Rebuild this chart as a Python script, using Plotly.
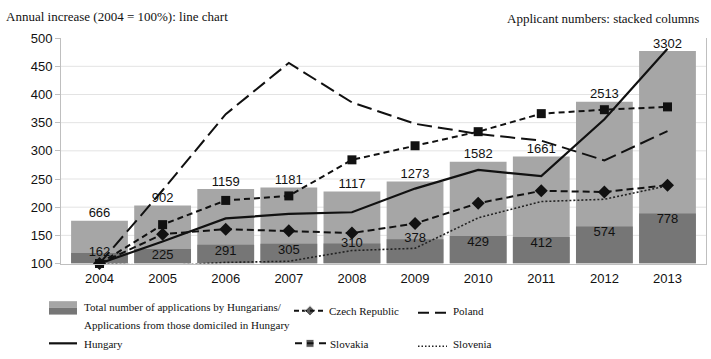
import plotly.graph_objects as go

# ---------------- data ----------------
years = ["2004", "2005", "2006", "2007", "2008", "2009", "2010", "2011", "2012", "2013"]
total_apps = [666, 902, 1159, 1181, 1117, 1273, 1582, 1661, 2513, 3302]
domiciled_apps = [162, 225, 291, 305, 310, 378, 429, 412, 574, 778]

hungary = [100, 139, 180, 188, 191, 233, 266, 255, 356, 481]
czech = [100, 152, 161, 158, 154, 171, 207, 229, 227, 239]
slovakia = [100, 169, 212, 220, 284, 309, 334, 366, 373, 378]
poland = [100, 230, 365, 456, 386, 348, 330, 318, 283, 335]
slovenia = [100, 96, 102, 104, 123, 127, 181, 210, 214, 238]

left_ticks = [100, 150, 200, 250, 300, 350, 400, 450, 500]
grid_ticks = [150, 200, 250, 300, 350, 400, 450]

# ---------------- geometry helpers (figure pixels -> paper) ----------------
W, H = 711, 359


def px(x):
    return x / W


def py(y):
    return 1 - y / H


SANS = "Liberation Sans, Arial, sans-serif"
SERIF = "Liberation Serif, Times New Roman, serif"
LIGHT = "#a6a6a6"
DARK = "#767676"
AXIS = "#bfbfbf"

fig = go.Figure()

# columns (overlay: total behind, domiciled in front)
fig.add_trace(go.Bar(x=years, y=total_apps, marker=dict(color=LIGHT, line=dict(width=0)),
                     xaxis="x", yaxis="y", showlegend=False, hoverinfo="skip"))
fig.add_trace(go.Bar(x=years, y=domiciled_apps, marker=dict(color=DARK, line=dict(width=0)),
                     xaxis="x", yaxis="y", showlegend=False, hoverinfo="skip"))
fig.add_trace(go.Scatter(x=years, y=total_apps, mode="text", text=[str(v) for v in total_apps],
                         textposition="top center", textfont=dict(family=SANS, size=13, color="#111"),
                         xaxis="x", yaxis="y", showlegend=False, hoverinfo="skip", cliponaxis=False))
dom_pos = ["middle center", "bottom center", "bottom center", "bottom center", "middle center",
           "middle center", "bottom center", "bottom center", "bottom center", "bottom center"]
fig.add_trace(go.Scatter(x=years, y=domiciled_apps, mode="text", text=[str(v) for v in domiciled_apps],
                         textposition=dom_pos, textfont=dict(family=SANS, size=13, color="#111"),
                         xaxis="x", yaxis="y", showlegend=False, hoverinfo="skip", cliponaxis=False))

# index lines
line_specs = [
    (slovenia, dict(color="#222", width=1.6, dash="2px,2px"), None, True),
    (poland, dict(color="#111", width=2, dash="15px,6px"), None, True),
    (czech, dict(color="#111", width=2, dash="7px,4px"), dict(symbol="diamond", size=10, color="#111"), False),
    (slovakia, dict(color="#111", width=2, dash="6px,4px"), dict(symbol="square", size=9, color="#111"), False),
    (hungary, dict(color="#111", width=2.2), None, True),
]
for vals, ln, mk, clip in line_specs:
    fig.add_trace(go.Scatter(x=years, y=vals, mode="lines+markers" if mk else "lines",
                             line=ln, marker=mk, xaxis="x", yaxis="y2",
                             showlegend=False, hoverinfo="skip", cliponaxis=clip))

# ---------------- custom legend samples (on a pixel-space helper axis) ----------------
fig.add_trace(go.Scatter(x=[49, 77], y=[351, 351], mode="lines", line=dict(color="#111", width=2.2),
                         xaxis="x3", yaxis="y3", showlegend=False, hoverinfo="skip"))
fig.add_trace(go.Scatter(x=[294, 310, 326], y=[317, 317, 317], mode="lines+markers",
                         line=dict(color="#111", width=2, dash="5px,3px"),
                         marker=dict(symbol="diamond", size=[0, 8, 0], color="#111"),
                         xaxis="x3", yaxis="y3", showlegend=False, hoverinfo="skip"))
fig.add_trace(go.Scatter(x=[295, 310, 326], y=[351, 351, 351], mode="lines+markers",
                         line=dict(color="#111", width=2, dash="7px,5px"),
                         marker=dict(symbol="square", size=[0, 8, 0], color="#111"),
                         xaxis="x3", yaxis="y3", showlegend=False, hoverinfo="skip"))
fig.add_trace(go.Scatter(x=[418, 446], y=[319, 319], mode="lines",
                         line=dict(color="#111", width=2, dash="11px,6px"),
                         xaxis="x3", yaxis="y3", showlegend=False, hoverinfo="skip"))
fig.add_trace(go.Scatter(x=[418, 447], y=[354, 354], mode="lines",
                         line=dict(color="#222", width=1.4, dash="1.5px,2px"),
                         xaxis="x3", yaxis="y3", showlegend=False, hoverinfo="skip"))

shapes = [
    dict(type="rect", xref="paper", yref="paper", x0=px(49), x1=px(77), y0=py(314), y1=py(307),
         fillcolor=LIGHT, line=dict(width=0)),
    dict(type="rect", xref="paper", yref="paper", x0=px(49), x1=px(77), y0=py(321), y1=py(314),
         fillcolor=DARK, line=dict(width=0)),
]
# horizontal gridlines behind the columns
for g in grid_ticks:
    shapes.append(dict(type="line", xref="x domain", yref="y2", x0=0, x1=1, y0=g, y1=g,
                       line=dict(color="#e3e3e3", width=1), layer="below"))


def note(x, y, text, size, anchor="left"):
    return dict(x=px(x), y=py(y), xref="paper", yref="paper", text=text, showarrow=False,
                xanchor=anchor, yanchor="middle", font=dict(family=SERIF, size=size, color="#111"))


LEG = 11
annotations = [
    note(4, 10, "Annual increase (2004 = 100%): line chart", 13),
    note(701, 12, "Applicant numbers: stacked columns", 13, anchor="right"),
    note(82, 313, "Total number of applications by Hungarians/", LEG),
    note(82, 332, "Applications from those domiciled in Hungary", LEG),
    note(82, 352, "Hungary", LEG),
    note(327, 317, "Czech Republic", LEG),
    note(328, 352, "Slovakia", LEG),
    note(451, 317, "Poland", LEG),
    note(451, 352, "Slovenia", LEG),
]

fig.update_layout(
    width=W, height=H,
    margin=dict(l=0, r=0, t=0, b=0),
    paper_bgcolor="white",
    plot_bgcolor="rgba(0,0,0,0)",
    barmode="overlay",
    bargap=0.1,
    showlegend=False,
    shapes=shapes,
    annotations=annotations,
    xaxis=dict(domain=[px(61), px(706)], type="category", anchor="y",
               showline=True, linecolor=AXIS, linewidth=1, ticks="outside", ticklen=3,
               tickcolor="rgba(0,0,0,0)", showgrid=False,
               tickfont=dict(family=SANS, size=13, color="#111"), fixedrange=True),
    yaxis=dict(domain=[py(267.7), py(32.5)], range=[0, 3500], side="right", anchor="x",
               showline=True, linecolor=AXIS, linewidth=1, showticklabels=False, ticks="",
               showgrid=False, zeroline=False, fixedrange=True),
    yaxis2=dict(overlaying="y", side="left", anchor="x", range=[100, 500],
                tickvals=left_ticks, showgrid=False,
                showline=True, linecolor=AXIS, linewidth=1, ticks="outside", ticklen=5,
                tickcolor=AXIS, zeroline=False,
                tickfont=dict(family=SANS, size=13, color="#111"), fixedrange=True),
    xaxis3=dict(domain=[0, 1], range=[0, W], anchor="y3", visible=False, fixedrange=True),
    yaxis3=dict(domain=[0, 1], range=[H, 0], anchor="x3", visible=False, fixedrange=True),
)

fig.write_html("out.html",
               config={"displayModeBar": False, "staticPlot": True},
               post_script="document.body.style.margin='0px';document.body.style.overflow='hidden';")
